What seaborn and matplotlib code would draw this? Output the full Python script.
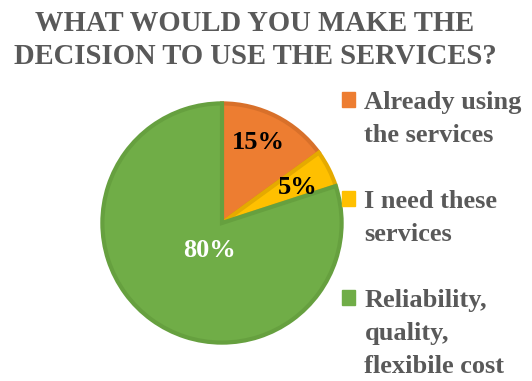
import numpy as np
import matplotlib
matplotlib.use("Agg")
import matplotlib.pyplot as plt
import seaborn as sns
from matplotlib.patches import Patch

sns.set_theme(style="white")
plt.rcParams['font.family'] = ['Liberation Serif', 'DejaVu Serif']

title = "WHAT WOULD YOU MAKE THE\nDECISION TO USE THE SERVICES?"
categories = ["Already using\nthe services", "I need these\nservices", "Reliability,\nquality,\nflexibile cost"]
values = [15, 5, 80]
labels = ["15%", "5%", "80%"]
colors = ["#ED7D31", "#FFC000", "#70AD47"]
edge_colors = ["#D8702A", "#E5AA00", "#66A03F"]
label_colors = ["black", "black", "white"]
label_dist = [0.74, 0.70, 0.25]
label_angle_shift = [3, -2, 12]

fig = plt.figure(figsize=(5.32, 3.81), dpi=100)
ax = fig.add_axes([100/532, (381-345)/381, 244/532, 244/381])

wedges, _ = ax.pie(values, colors=colors, startangle=90, counterclock=False,
                   wedgeprops=dict(linewidth=3, joinstyle='miter'))
for w, ec in zip(wedges, edge_colors):
    w.set_edgecolor(ec)

for w, lab, d, sh, lc in zip(wedges, labels, label_dist, label_angle_shift, label_colors):
    ang = np.deg2rad((w.theta1 + w.theta2) / 2 + sh)
    ax.text(d * np.cos(ang), d * np.sin(ang), lab, ha='center', va='center',
            fontsize=19, fontweight='bold', color=lc)
ax.set_aspect('equal')
ax.set_xlim(-1.02, 1.02)
ax.set_ylim(-1.02, 1.02)

fig.text(255/532, 1 - 40/381, title, ha='center', va='center', fontsize=20.6,
         fontweight='bold', color='#595959', linespacing=1.3)

# legend: one row per text line, marker only on first line, blank row between items
handles, texts = [], []
for i, (cat, c) in enumerate(zip(categories, colors)):
    for j, line in enumerate(cat.split("\n")):
        handles.append(Patch(facecolor=c, edgecolor=c) if j == 0 else Patch(alpha=0))
        texts.append(line)
    if i < len(categories) - 1:
        handles.append(Patch(alpha=0))
        texts.append(" ")
leg = fig.legend(handles, texts, loc='upper left', bbox_to_anchor=(342/532, 1 - 91/381),
                 frameon=False, prop=dict(size=19, weight='bold'), labelcolor='#595959',
                 handlelength=0.5, handleheight=0.5, handletextpad=0.35, labelspacing=0.38,
                 borderaxespad=0, borderpad=0)

fig.savefig("out.png", dpi=100)
